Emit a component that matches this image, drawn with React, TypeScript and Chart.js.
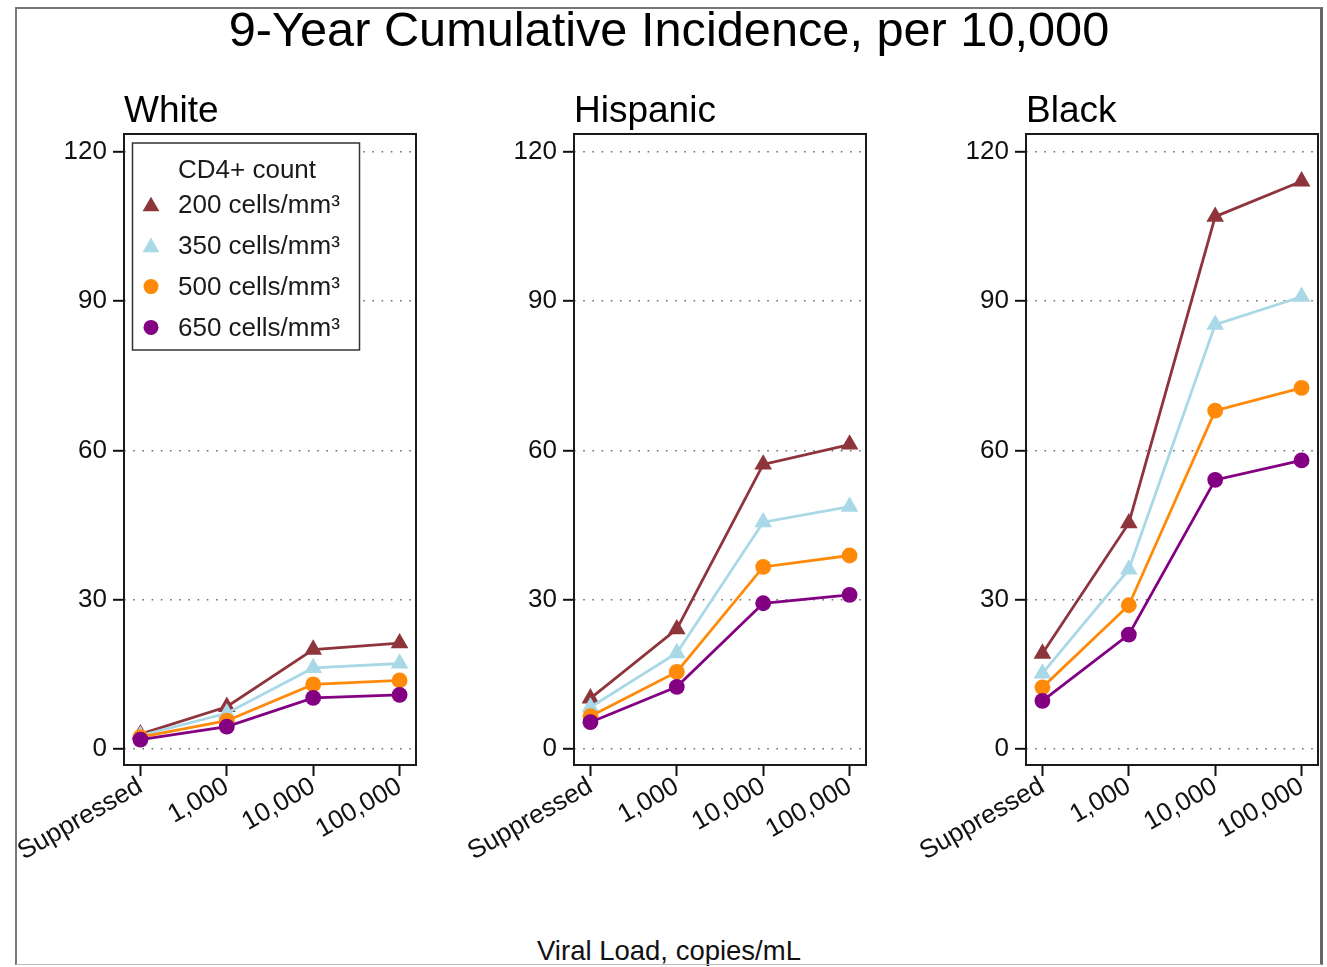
import React, { useEffect, useRef } from 'react';
import { Chart, registerables } from 'chart.js';

Chart.register(...registerables);

// ---------- data ----------
const MAIN_TITLE = '9-Year Cumulative Incidence, per 10,000';
const X_TITLE = 'Viral Load, copies/mL';
const LEGEND_TITLE = 'CD4+ count';
const PANEL_NAMES = ['White', 'Hispanic', 'Black'];
const VIRAL_LOADS = ['Suppressed', '1,000', '10,000', '100,000'];
const Y_TICKS = [0, 30, 60, 90, 120];
const CD4_LABELS = ['200 cells/mm³', '350 cells/mm³', '500 cells/mm³', '650 cells/mm³'];

const WHITE_200 = [3.0, 8.5, 20.0, 21.3];
const WHITE_350 = [2.7, 7.2, 16.3, 17.2];
const WHITE_500 = [2.4, 5.7, 13.0, 13.8];
const WHITE_650 = [1.9, 4.5, 10.3, 10.9];

const HISPANIC_200 = [10.2, 24.1, 57.2, 61.2];
const HISPANIC_350 = [8.4, 19.3, 45.6, 48.7];
const HISPANIC_500 = [6.6, 15.5, 36.6, 38.9];
const HISPANIC_650 = [5.4, 12.5, 29.3, 31.0];

const BLACK_200 = [19.2, 45.4, 107.0, 114.1];
const BLACK_350 = [15.2, 36.1, 85.3, 90.9];
const BLACK_500 = [12.4, 28.9, 68.0, 72.6];
const BLACK_650 = [9.7, 23.0, 54.1, 58.0];

const PANEL_SERIES = [
  [WHITE_200, WHITE_350, WHITE_500, WHITE_650],
  [HISPANIC_200, HISPANIC_350, HISPANIC_500, HISPANIC_650],
  [BLACK_200, BLACK_350, BLACK_500, BLACK_650],
];

// ---------- styles ----------
const FONT = '"Liberation Sans", Arial, Helvetica, sans-serif';
const SERIES_COLORS = ['#8e343b', '#a9d8e6', '#ff8a0a', '#830082'];
const SERIES_SHAPES = ['triangle', 'triangle', 'circle', 'circle'];
const SERIES_RADII = [10.2, 10.2, 7.9, 7.9];
const PANEL_LEFTS = [0, 450, 902];
const CANVAS_TOP = 80;
const RIGHT_PAD = 20;
const CANVAS_W = 124 + 292 + RIGHT_PAD;
const CANVAS_H = 795;

function drawMarker(ctx: CanvasRenderingContext2D, shape: string, x: number, y: number, r: number, color: string) {
  ctx.fillStyle = color;
  ctx.beginPath();
  if (shape === 'triangle') {
    const a = Math.PI * 2 / 3;
    ctx.moveTo(x, y - r);
    ctx.lineTo(x + Math.sin(a) * r, y - Math.cos(a) * r);
    ctx.lineTo(x + Math.sin(2 * a) * r, y - Math.cos(2 * a) * r);
    ctx.closePath();
  } else {
    ctx.arc(x, y, r, 0, Math.PI * 2);
  }
  ctx.fill();
}

const boxPlugin = {
  id: 'plotBox',
  afterDraw(chart: any) {
    const { ctx, chartArea } = chart;
    ctx.save();
    ctx.strokeStyle = '#1a1a1a';
    ctx.lineWidth = 2;
    ctx.strokeRect(chartArea.left, chartArea.top, chartArea.right - chartArea.left, chartArea.bottom - chartArea.top);
    ctx.restore();
  },
};

const legendPlugin = {
  id: 'insideLegend',
  afterDraw(chart: any) {
    const { ctx, chartArea } = chart;
    const x0 = chartArea.left + 8.5;
    const y0 = chartArea.top + 9;
    const w = 227;
    const h = 207;
    ctx.save();
    ctx.fillStyle = '#fff';
    ctx.fillRect(x0, y0, w, h);
    ctx.strokeStyle = '#333';
    ctx.lineWidth = 1.5;
    ctx.strokeRect(x0, y0, w, h);
    ctx.font = `26px ${FONT}`;
    ctx.textBaseline = 'middle';
    ctx.textAlign = 'left';
    ctx.fillStyle = '#1a1a1a';
    ctx.fillText(LEGEND_TITLE, x0 + 45.5, y0 + 28);
    chart.data.datasets.forEach((ds: any, i: number) => {
      const cy = y0 + 62 + i * 40.8;
      drawMarker(ctx, ds.pointStyle, x0 + 18.5, cy + (ds.pointStyle === 'triangle' ? 1.5 : 0), ds.pointRadius * 0.95, ds.pointBackgroundColor);
      ctx.fillStyle = '#1a1a1a';
      ctx.fillText(ds.label, x0 + 45.5, cy + 1);
    });
    ctx.restore();
  },
};

function makeConfig(p: number): any {
  const datasets = PANEL_SERIES[p].map((values, i) => ({
    label: CD4_LABELS[i],
    data: values.map((v, j) => ({ x: j, y: v })),
    borderColor: SERIES_COLORS[i],
    backgroundColor: SERIES_COLORS[i],
    pointBackgroundColor: SERIES_COLORS[i],
    pointBorderColor: SERIES_COLORS[i],
    pointBorderWidth: 0,
    pointStyle: SERIES_SHAPES[i],
    pointRadius: SERIES_RADII[i],
    borderWidth: 2.8,
    tension: 0,
    order: 3 - i,
    clip: false,
  }));
  return {
    type: 'line',
    data: { datasets },
    plugins: p === 0 ? [boxPlugin, legendPlugin] : [boxPlugin],
    options: {
      responsive: false,
      animation: false,
      devicePixelRatio: 1,
      events: [],
      layout: { padding: { left: 0, right: RIGHT_PAD, top: 0, bottom: 0 } },
      plugins: {
        legend: { display: false },
        tooltip: { enabled: false },
        title: {
          display: true,
          text: PANEL_NAMES[p],
          align: 'start',
          fullSize: false,
          color: '#000',
          font: { size: 37, family: FONT, weight: 'normal' },
          padding: { top: 10, bottom: -0.4 },
        },
      },
      scales: {
        x: {
          type: 'linear',
          min: -0.19,
          max: 3.19,
          afterBuildTicks: (s: any) => {
            s.ticks = VIRAL_LOADS.map((_, i) => ({ value: i }));
          },
          afterFit: (s: any) => {
            s.height = 110;
          },
          ticks: {
            callback: (v: number) => VIRAL_LOADS[v],
            autoSkip: false,
            minRotation: 30,
            maxRotation: 30,
            padding: -5,
            color: '#111',
            font: { size: 26, family: FONT },
          },
          grid: {
            drawOnChartArea: false,
            drawTicks: true,
            tickLength: 11,
            tickColor: '#111',
            tickWidth: 2,
          },
          border: { display: false },
        },
        y: {
          type: 'linear',
          min: -3.2,
          max: 123.6,
          afterBuildTicks: (s: any) => {
            s.ticks = Y_TICKS.map((v) => ({ value: v }));
          },
          afterFit: (s: any) => {
            s.width = 124;
          },
          ticks: {
            padding: 6,
            color: '#111',
            font: { size: 26, family: FONT },
          },
          grid: {
            color: '#6f6f6f',
            lineWidth: 1.6,
            drawTicks: true,
            tickLength: 11,
            tickColor: '#111',
            tickWidth: 2,
            tickBorderDash: [],
          },
          border: { display: false, dash: [1.6, 7.6] },
        },
      },
    },
  };
}

export default function App() {
  const r0 = useRef<HTMLCanvasElement>(null);
  const r1 = useRef<HTMLCanvasElement>(null);
  const r2 = useRef<HTMLCanvasElement>(null);
  const refs = [r0, r1, r2];

  useEffect(() => {
    const charts = refs.map((r, p) => new Chart(r.current as HTMLCanvasElement, makeConfig(p)));
    return () => charts.forEach((c) => c.destroy());
  }, []);

  return (
    <div
      style={{
        position: 'absolute',
        left: 0,
        top: 0,
        width: 1327,
        height: 967,
        background: '#fff',
        overflow: 'hidden',
        fontFamily: FONT,
        color: '#000',
      }}
    >
      <div
        style={{
          position: 'absolute',
          left: 16,
          width: 1306,
          top: 5,
          fontSize: 48.7,
          lineHeight: '48px',
          textAlign: 'center',
          whiteSpace: 'nowrap',
        }}
      >
        {MAIN_TITLE}
      </div>
      {refs.map((r, p) => (
        <canvas
          key={p}
          ref={r}
          width={CANVAS_W}
          height={CANVAS_H}
          style={{ position: 'absolute', left: PANEL_LEFTS[p], top: CANVAS_TOP, width: CANVAS_W, height: CANVAS_H, display: 'block' }}
        />
      ))}
      <div
        style={{
          position: 'absolute',
          left: 16,
          width: 1306,
          top: 937,
          fontSize: 27.5,
          lineHeight: '27px',
          textAlign: 'center',
          whiteSpace: 'nowrap',
          color: '#111',
        }}
      >
        {X_TITLE}
      </div>
      <div
        style={{
          position: 'absolute',
          left: 15,
          top: 7,
          width: 1308,
          height: 958,
          boxSizing: 'border-box',
          borderTop: '2px solid #777',
          borderLeft: '2px solid #777',
          borderRight: '3px solid #666',
          borderBottom: '1px solid #bbb',
          pointerEvents: 'none',
        }}
      />
    </div>
  );
}
